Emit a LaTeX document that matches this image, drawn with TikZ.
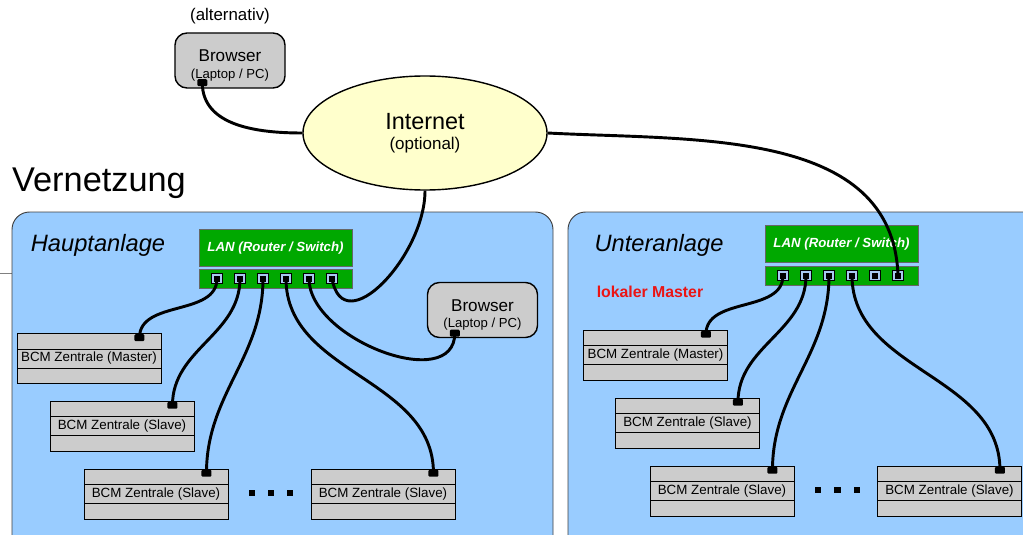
\documentclass[tikz,border=0pt]{standalone}
\usepackage{fontspec}
\setmainfont{Liberation Sans}
\usetikzlibrary{positioning,shapes.geometric}
\definecolor{panelblue}{RGB}{153,204,255}
\definecolor{boxgray}{RGB}{204,204,204}
\definecolor{langreen}{RGB}{0,168,0}
\definecolor{inetyellow}{RGB}{255,255,204}
\definecolor{portblue}{RGB}{168,200,240}
\definecolor{masterred}{RGB}{235,20,20}

\begin{document}
\begin{tikzpicture}[x=0.03cm,y=-0.03cm,
  panel/.style={draw=black!75,fill=panelblue,rounded corners=15pt,line width=0.8pt},
  bcm/.style={draw,fill=boxgray,line width=0.8pt,minimum width=4.32cm,minimum height=1.5cm,inner sep=0pt},
  bcmband/.style={draw,fill=boxgray,line width=0.8pt,minimum width=4.32cm,minimum height=0.57cm,inner sep=0pt,font=\fontsize{11.4}{13}\selectfont},
  bcmport/.style={fill=black,rounded corners=1pt,minimum width=0.3cm,minimum height=0.21cm,inner sep=0pt},
  browser/.style={draw,fill=boxgray,line width=1.2pt,rounded corners=0.36cm,minimum width=3.3cm,minimum height=1.65cm,align=center,inner sep=0pt,font=\fontsize{14.6}{16}\selectfont},
  lantop/.style={draw=black!60,fill=langreen,line width=0.6pt,minimum width=4.59cm,minimum height=1.1cm,inner sep=0pt,text=white,font=\fontsize{11.3}{13}\selectfont\bfseries\itshape},
  lanbase/.style={draw=black!60,fill=langreen,line width=0.6pt,minimum width=4.59cm,minimum height=0.57cm,inner sep=0pt},
  lanport/.style={draw=black,fill=portblue,line width=0.6pt,minimum width=0.34cm,minimum height=0.31cm,inner sep=0pt,
    path picture={\fill[black] ([xshift=-0.1cm,yshift=-0.09cm]path picture bounding box.center) rectangle ([xshift=0.1cm,yshift=0.09cm]path picture bounding box.center);}},
  dot/.style={fill=black,minimum size=0.2cm,inner sep=0pt},
  cable/.style={line width=2.5pt}]
\clip (0,0) rectangle (1023,535);

% panels
\draw[gray] (0,273) -- (20,273);
\draw[panel] (12,212) rectangle (553,570);
\draw[panel] (568,212) rectangle (1060,570);

\node[anchor=west,font=\fontsize{29.3}{31}\selectfont] (title) at (8,183) {Vernetzung};
\node[font=\fontsize{20.2}{22}\selectfont\itshape] (haupt) at (98,245) {Hauptanlage};
\node[font=\fontsize{20.2}{22}\selectfont\itshape] (unter) at (659,245) {Unteranlage};
\node[text=masterred,font=\fontsize{13.5}{15}\selectfont\bfseries] (lokal) at (650,292) {lokaler Master};

% internet and browsers
\node[ellipse,draw,fill=inetyellow,line width=1.2pt,minimum width=7.32cm,minimum height=3.42cm,align=center,inner sep=0pt] (inet) at (425,133)
  {{\fontsize{20}{22}\selectfont Internet}\\[5pt]{\fontsize{14.5}{16}\selectfont (optional)}};
\node[font=\fontsize{14.4}{16}\selectfont] (alt) at (230,16) {(alternativ)};
\node[browser] (tb) at (230,60.5) {\strut\\[-9pt]Browser\\[-2pt]{\fontsize{11.2}{13}\selectfont (Laptop / PC)}};
\node[bcmport] (tbp) at ([xshift=0.84cm,yshift=0.18cm]tb.south west) {};
\node[browser] (hb) at (482.5,310) {\strut\\[-9pt]Browser\\[-2pt]{\fontsize{11.2}{13}\selectfont (Laptop / PC)}};
\node[bcmport] (hbp) at ([xshift=0.84cm,yshift=0.15cm]hb.south west) {};

% LAN boxes
\node[lantop] (hlan) at (275.5,248) {LAN (Router / Switch)};
\node[lanbase] (hbase) at (275.5,278.5) {};
\foreach \i in {1,...,6}
  \node[lanport] (hp\i) at (194+23*\i,278.5) {};
\node[lantop] (ulan) at (841.5,244) {LAN (Router / Switch)};
\node[lanbase] (ubase) at (841.5,275.5) {};
\foreach \i in {1,...,6}
  \node[lanport] (up\i) at (760+23*\i,275.5) {};

% Hauptanlage units
\node[bcm] (hm) at (89,358.5) {};
\node[bcmband] (hmt) at (hm) {BCM Zentrale (Master)};
\node[bcmport] (hmp) at ([xshift=-0.66cm,yshift=-0.14cm]hm.north east) {};
\node[bcm] (hs1) at (122,426) {};
\node[bcmband] (hs1t) at (hs1) {BCM Zentrale (Slave)};
\node[bcmport] (hs1p) at ([xshift=-0.66cm,yshift=-0.14cm]hs1.north east) {};
\node[bcm] (hs2) at (156,494) {};
\node[bcmband] (hs2t) at (hs2) {BCM Zentrale (Slave)};
\node[bcmport] (hs2p) at ([xshift=-0.66cm,yshift=-0.14cm]hs2.north east) {};
\node[bcm] (hs3) at (383,494) {};
\node[bcmband] (hs3t) at (hs3) {BCM Zentrale (Slave)};
\node[bcmport] (hs3p) at ([xshift=-0.66cm,yshift=-0.14cm]hs3.north east) {};
\foreach \i in {0,1,2}
  \node[dot] (hd\i) at (252+19*\i,493) {};

% Unteranlage units
\node[bcm] (um) at (655.5,355) {};
\node[bcmband] (umt) at (um) {BCM Zentrale (Master)};
\node[bcmport] (ump) at ([xshift=-0.66cm,yshift=-0.14cm]um.north east) {};
\node[bcm] (us1) at (687.5,423) {};
\node[bcmband] (us1t) at (us1) {BCM Zentrale (Slave)};
\node[bcmport] (us1p) at ([xshift=-0.66cm,yshift=-0.14cm]us1.north east) {};
\node[bcm] (us2) at (722,491) {};
\node[bcmband] (us2t) at (us2) {BCM Zentrale (Slave)};
\node[bcmport] (us2p) at ([xshift=-0.66cm,yshift=-0.14cm]us2.north east) {};
\node[bcm] (us3) at (949.5,491) {};
\node[bcmband] (us3t) at (us3) {BCM Zentrale (Slave)};
\node[bcmport] (us3p) at ([xshift=-0.66cm,yshift=-0.14cm]us3.north east) {};
\foreach \i in {0,1,2}
  \node[dot] (ud\i) at (818+19.5*\i,490) {};

% cables
\draw[cable] (tbp.center) to[out=-90,in=180] (inet.west);
\draw[cable] (hp1.center) to[out=-90,in=90] (hmp.center);
\draw[cable] (hp2.center) to[out=-90,in=90] (hs1p.center);
\draw[cable] (hp3.center) to[out=-90,in=90] (hs2p.center);
\draw[cable] (hp4.center) to[out=-90,in=90] (hs3p.center);
\draw[cable] (hp5.center) to[out=-90,in=-90] (hbp.center);
\draw[cable] (hp6.center) to[out=-80,in=-90,looseness=1.3] (inet.south);
\draw[cable] (up1.center) to[out=-90,in=90] (ump.center);
\draw[cable] (up2.center) to[out=-90,in=90] (us1p.center);
\draw[cable] (up3.center) to[out=-90,in=90] (us2p.center);
\draw[cable] (up4.center) to[out=-90,in=90] (us3p.center);
\draw[cable] (inet.east) to[out=-3,in=92] (up6.center);
\end{tikzpicture}
\end{document}
